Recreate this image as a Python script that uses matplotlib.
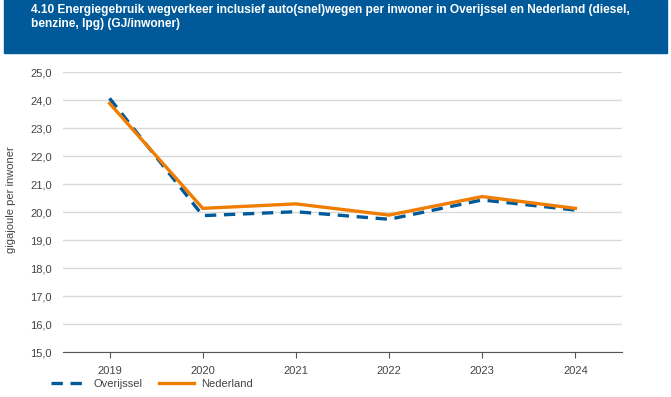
import numpy as np
import matplotlib.pyplot as plt

years = ["2019", "2020", "2021", "2022", "2023", "2024"]
overijssel = [24.06, 19.87, 20.01, 19.74, 20.43, 20.07]
nederland = [23.88, 20.13, 20.29, 19.89, 20.55, 20.13]

plt.rcParams['font.family'] = ['Liberation Sans', 'DejaVu Sans']

fig = plt.figure(figsize=(6.71, 3.97), dpi=100)

# blue header band with the title
fig.patches.append(plt.Rectangle((4 / 671, 1 - 53 / 397), 663 / 671, 53 / 397,
                                 transform=fig.transFigure, color="#005A9A", zorder=0))
fig.text(31 / 671, 1 - 17 / 397,
         "4.10 Energiegebruik wegverkeer inclusief auto(snel)wegen per inwoner in Overijssel en Nederland (diesel,\nbenzine, lpg) (GJ/inwoner)",
         color="white", fontsize=8.6, fontweight="bold", va="center", ha="left", linespacing=1.2)

ax = fig.add_axes([63 / 671, 1 - 352 / 397, 559 / 671, 280 / 397])
x = np.arange(len(years))
ax.plot(x, overijssel, color="#005A9A", lw=2.4, ls=(0, (3.4, 2.3)), label="Overijssel", zorder=3)
ax.plot(x, nederland, color="#F07D00", lw=2.4, label="Nederland", zorder=4)

ax.set_xlim(-0.5, len(years) - 0.5)
ax.set_ylim(15, 25)
ax.set_yticks(np.arange(15, 25.1, 1))
ax.set_yticklabels([f"{v:.1f}".replace(".", ",") for v in np.arange(15, 25.1, 1)])
ax.set_xticks(x)
ax.set_xticklabels(years)
ax.grid(axis="y", color="#D9D9D9", lw=1)
ax.set_axisbelow(True)
for s in ["top", "right", "left"]:
    ax.spines[s].set_visible(False)
ax.spines["bottom"].set_color("#555555")
ax.tick_params(axis="y", length=0, pad=8, labelsize=8, labelcolor="#444444")
ax.tick_params(axis="x", length=4, color="#555555", labelsize=8, labelcolor="#444444", pad=6)

fig.text(11 / 671, 1 - 200 / 397, "gigajoule per inwoner", rotation=90,
         ha="center", va="center", fontsize=8, color="#444444")

ax.legend(loc="upper left", bbox_to_anchor=(-0.0215, -0.096), ncol=2, frameon=False,
          fontsize=8, labelcolor="#444444", handlelength=3.2, handletextpad=0.6,
          columnspacing=1.5, borderpad=0, borderaxespad=0)

fig.savefig("out.png", dpi=100)
